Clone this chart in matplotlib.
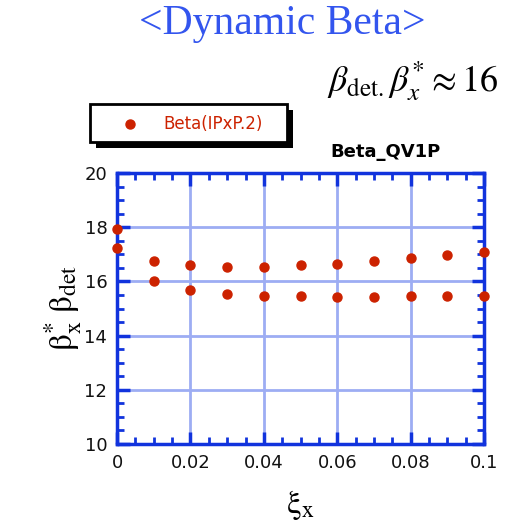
import matplotlib.pyplot as plt
from matplotlib.patches import Rectangle
from matplotlib.lines import Line2D
from matplotlib.ticker import MultipleLocator

plt.rcParams["mathtext.fontset"] = "stix"

# beta product vs horizontal beam-beam parameter
xi_x = [0.0, 0.01, 0.02, 0.03, 0.04, 0.05, 0.06, 0.07, 0.08, 0.09, 0.1]
beta_upper = [17.92, 16.76, 16.59, 16.54, 16.55, 16.60, 16.65, 16.76, 16.86, 16.97, 17.08]
beta_lower = [17.22, 16.03, 15.67, 15.54, 15.47, 15.45, 15.44, 15.44, 15.45, 15.46, 15.47]

x_ticks = [0, 0.02, 0.04, 0.06, 0.08, 0.1]
x_ticklabels = ["0", "0.02", "0.04", "0.06", "0.08", "0.1"]
y_ticks = [10, 12, 14, 16, 18, 20]

blue = "#1133dd"
red = "#cc2200"

fig = plt.figure(figsize=(5.09, 5.32), dpi=100)
ax = fig.add_axes([0.230, 0.1654, 0.721, 0.5094])

ax.plot(xi_x, beta_upper, "o", color=red, markersize=6.5, clip_on=False, zorder=5)
ax.plot(xi_x, beta_lower, "o", color=red, markersize=6.5, clip_on=False, zorder=5)

ax.set_xlim(0, 0.1)
ax.set_ylim(10, 20)
ax.set_xticks(x_ticks)
ax.set_xticklabels(x_ticklabels)
ax.set_yticks(y_ticks)
ax.xaxis.set_minor_locator(MultipleLocator(0.005))
ax.yaxis.set_minor_locator(MultipleLocator(0.5))

ax.grid(True, which="major", color="#9dadf3", linewidth=2)
for s in ax.spines.values():
    s.set_color(blue)
    s.set_linewidth(2.5)
ax.tick_params(which="both", direction="in", top=True, right=True, color=blue,
               labelsize=13, labelcolor="#111111")
ax.tick_params(which="major", length=9, width=2.5, pad=7)
ax.tick_params(which="minor", length=5, width=2)

ax.set_xlabel(r"$\mathrm{ξ}_{\mathrm{x}}$", fontsize=24, labelpad=12)
ax.set_ylabel(r"$\mathrm{β}^{*}_{\mathrm{x}}\ \mathrm{β}_{\mathrm{det}}$",
              fontsize=24, labelpad=0)

fig.text(0.554, 0.955, "<Dynamic Beta>", color="#3355ee", fontsize=30,
         family="Liberation Serif", ha="center", va="center")
fig.text(0.811, 0.848, r"$\beta_{\rm det.}\beta^{*}_{x}\approx 16$", fontsize=26,
         ha="center", va="center")
fig.text(0.757, 0.715, "Beta_QV1P", fontsize=13, fontweight="bold",
         ha="center", va="center")

# boxed legend with a solid drop shadow
fig.add_artist(Rectangle((96 / 509, 1 - 148 / 532), 197 / 509, 38 / 532,
                         transform=fig.transFigure, facecolor="black",
                         edgecolor="none"))
fig.add_artist(Rectangle((90 / 509, 1 - 142 / 532), 197 / 509, 38 / 532,
                         transform=fig.transFigure, facecolor="white",
                         edgecolor="black", linewidth=2))
fig.add_artist(Line2D([130 / 509], [1 - 124 / 532], marker="o", color=red,
                      markersize=6.5, transform=fig.transFigure))
fig.text(163 / 509, 1 - 124 / 532, "Beta(IPxP.2)", color=red, fontsize=12,
         va="center", ha="left")

fig.savefig("out.png", dpi=100)
